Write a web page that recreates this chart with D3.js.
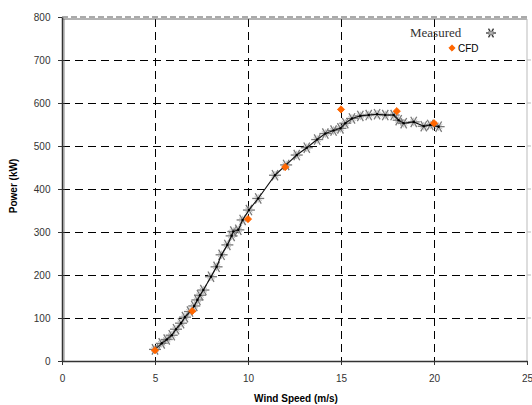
<!DOCTYPE html>
<html>
<head>
<meta charset="utf-8">
<script src="https://cdn.jsdelivr.net/npm/d3@7"></script>
<style>
  body { margin: 0; background: #fff; }
  svg { display: block; }
</style>
</head>
<body>
<div id="chart"></div>
<script>
// measured power curve (wind speed m/s, power kW)
var measuredSpeed = [5.0, 5.36, 5.63, 5.9, 6.13, 6.4, 6.61, 6.88, 7.11, 7.28, 7.42, 7.6,
    8.01, 8.31, 8.58, 8.89, 9.12, 9.21, 9.48, 9.71, 10.05, 10.55, 11.45, 12.05, 12.62, 13.16,
    13.72, 14.16, 14.6, 14.97, 15.23, 15.59, 16.04, 16.49, 16.94, 17.38, 17.83, 18.1, 18.37,
    18.91, 19.45, 19.8, 20.25];
var measuredPower = [27, 41, 50, 60, 74, 88, 102, 115, 128, 142, 153, 165,
    196, 219, 247, 270, 291, 301, 305, 328, 351, 378, 432, 456, 479, 496,
    515, 529, 536, 541, 553, 564, 570, 572, 574, 572, 572, 560, 553,
    556, 546, 549, 545];
var cfdSpeed = [5, 7, 10, 12, 15, 18, 20];
var cfdPower = [25, 116, 330, 451, 585, 581, 553];
var xTicks = [0, 5, 10, 15, 20, 25];
var yTicks = [0, 100, 200, 300, 400, 500, 600, 700, 800];

var width = 532, height = 405;
var padL = 62, padR = 527, padT = 19, padB = 361;
var orange = "#ff6600";

var svg = d3.select("#chart")
    .append("svg")
    .attr("width", width)
    .attr("height", height);

var x = d3.scaleLinear().domain([0, 25]).range([padL, padR]);
var y = d3.scaleLinear().domain([0, 800]).range([padB, padT - 2]);

// grid lines
var grid = svg.append("g").attr("shape-rendering", "crispEdges");
grid.selectAll("line.h")
    .data(yTicks.filter(function (d) { return d > 0 && d < 800; }))
    .enter().append("line")
    .attr("x1", padL).attr("x2", padR)
    .attr("y1", function (d) { return y(d); })
    .attr("y2", function (d) { return y(d); })
    .attr("stroke", "#000")
    .attr("stroke-width", 1)
    .attr("stroke-dasharray", "8,5");
grid.selectAll("line.v")
    .data(xTicks.filter(function (d) { return d > 0 && d < 25; }))
    .enter().append("line")
    .attr("x1", function (d) { return x(d); })
    .attr("x2", function (d) { return x(d); })
    .attr("y1", padT).attr("y2", padB)
    .attr("stroke", "#000")
    .attr("stroke-width", 1)
    .attr("stroke-dasharray", "8,5");

// frame
svg.append("line")
    .attr("x1", padL).attr("x2", padR + 3)
    .attr("y1", y(800)).attr("y2", y(800))
    .attr("stroke", "#aaa").attr("stroke-width", 2)
    .attr("stroke-dasharray", "6,3");
svg.append("line")
    .attr("x1", padL).attr("x2", padR)
    .attr("y1", padT).attr("y2", padT)
    .attr("stroke", "#666").attr("stroke-width", 1);
svg.append("line")
    .attr("x1", padR).attr("x2", padR)
    .attr("y1", padT).attr("y2", padB)
    .attr("stroke", "#bbb").attr("stroke-width", 1);
svg.append("g").selectAll("line.rt")
    .data(yTicks.filter(function (d) { return d > 0 && d < 800; }))
    .enter().append("line")
    .attr("x1", padR).attr("x2", padR + 4)
    .attr("y1", function (d) { return y(d); })
    .attr("y2", function (d) { return y(d); })
    .attr("stroke", "#bbb");

// axes
var xAxis = svg.append("g")
    .attr("transform", "translate(0," + padB + ")")
    .call(d3.axisBottom(x).tickValues(xTicks).tickSize(4).tickSizeOuter(0));
var yAxis = svg.append("g")
    .attr("transform", "translate(" + padL + ",0)")
    .call(d3.axisLeft(y).tickValues(yTicks).tickSize(4).tickSizeOuter(0));
[xAxis, yAxis].forEach(function (a) {
    a.select(".domain").attr("stroke", "#333").attr("stroke-width", 1.5);
    a.selectAll(".tick line").attr("stroke", "#333");
    a.selectAll("text")
        .attr("font-family", "Arial, 'Liberation Sans', sans-serif")
        .attr("font-size", "10px")
        .attr("fill", "#333");
});
xAxis.selectAll("text").attr("dy", "1.35em");
yAxis.selectAll("text").attr("dx", "-0.45em");
svg.append("line")
    .attr("x1", padL + 2).attr("x2", padL + 2)
    .attr("y1", padT).attr("y2", padB)
    .attr("stroke", "#666").attr("stroke-width", 0.8);

// axis titles
svg.append("text")
    .attr("x", 296).attr("y", 402)
    .attr("text-anchor", "middle")
    .attr("font-family", "Arial, 'Liberation Sans', sans-serif")
    .attr("font-size", "10px")
    .attr("font-weight", "bold")
    .text("Wind Speed (m/s)");
svg.append("text")
    .attr("transform", "translate(17,186) rotate(-90)")
    .attr("text-anchor", "middle")
    .attr("font-family", "Arial, 'Liberation Sans', sans-serif")
    .attr("font-size", "10px")
    .attr("font-weight", "bold")
    .text("Power (kW)");

// star marker
function star(g, cx, cy, r, col) {
    var s = g.append("g").attr("transform", "translate(" + cx + "," + cy + ")");
    [0, 60, 120].forEach(function (a) {
        var t = a * Math.PI / 180;
        s.append("line")
            .attr("x1", -r * Math.cos(t)).attr("y1", -r * Math.sin(t))
            .attr("x2", r * Math.cos(t)).attr("y2", r * Math.sin(t))
            .attr("stroke", col)
            .attr("stroke-width", 1.3);
    });
    [30, 90, 150].forEach(function (a) {
        var t = a * Math.PI / 180;
        s.append("line")
            .attr("x1", -r * 0.7 * Math.cos(t)).attr("y1", -r * 0.7 * Math.sin(t))
            .attr("x2", r * 0.7 * Math.cos(t)).attr("y2", r * 0.7 * Math.sin(t))
            .attr("stroke", "#bbb")
            .attr("stroke-width", 1);
    });
    return s;
}

// measured series
var measured = measuredSpeed.map(function (d, i) { return [d, measuredPower[i]]; });
var starG = svg.append("g");
measured.forEach(function (d) {
    star(starG, x(d[0]), y(d[1]), 6, "#777");
});
svg.append("path")
    .datum(measured)
    .attr("d", d3.line().x(function (d) { return x(d[0]); }).y(function (d) { return y(d[1]); }))
    .attr("fill", "none")
    .attr("stroke", "#111")
    .attr("stroke-width", 1.1);
svg.append("g").selectAll("circle")
    .data(measured)
    .enter().append("circle")
    .attr("cx", function (d) { return x(d[0]); })
    .attr("cy", function (d) { return y(d[1]); })
    .attr("r", 1.3)
    .attr("fill", "#000");

// CFD series
var cfd = cfdSpeed.map(function (d, i) { return [d, cfdPower[i]]; });
svg.append("g").selectAll("path")
    .data(cfd)
    .enter().append("path")
    .attr("transform", function (d) { return "translate(" + x(d[0]) + "," + y(d[1]) + ") rotate(45)"; })
    .attr("d", d3.symbol().type(d3.symbolSquare).size(26))
    .attr("fill", orange)
    .attr("stroke", orange)
    .attr("stroke-width", 0.8)
    .attr("stroke-linejoin", "round");

// legend
svg.append("text")
    .attr("x", 410).attr("y", 37)
    .attr("font-family", "'Liberation Serif', 'Times New Roman', serif")
    .attr("font-size", "13px")
    .attr("fill", "#333")
    .text("Measured");
star(svg, 491, 33, 5, "#333");
svg.append("path")
    .attr("transform", "translate(452,48) rotate(45)")
    .attr("d", d3.symbol().type(d3.symbolSquare).size(20))
    .attr("fill", orange)
    .attr("stroke", orange)
    .attr("stroke-width", 0.8)
    .attr("stroke-linejoin", "round");
svg.append("text")
    .attr("x", 458).attr("y", 51.5)
    .attr("font-family", "Arial, 'Liberation Sans', sans-serif")
    .attr("font-size", "10px")
    .attr("fill", "#000")
    .text("CFD");
</script>
</body>
</html>
